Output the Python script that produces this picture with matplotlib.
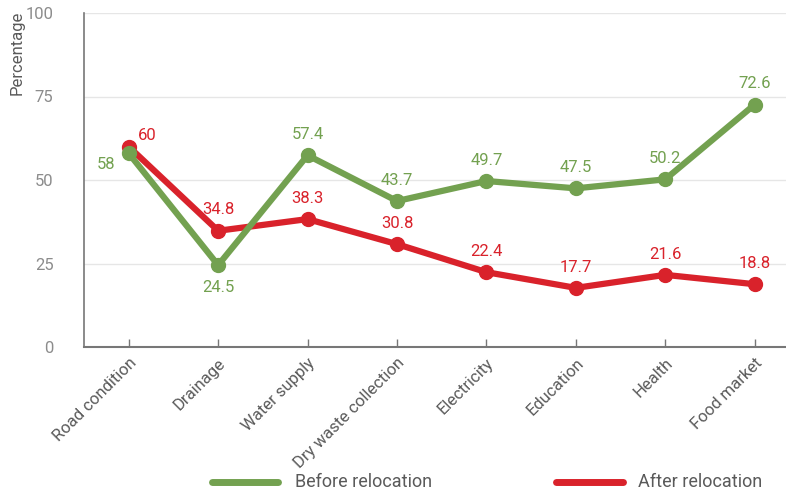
import matplotlib
matplotlib.use("Agg")
import matplotlib.pyplot as plt
from matplotlib import font_manager
from matplotlib.lines import Line2D

categories = ["Road condition", "Drainage", "Water supply", "Dry waste collection",
              "Electricity", "Education", "Health", "Food market"]
before = [58, 24.5, 57.4, 43.7, 49.7, 47.5, 50.2, 72.6]
after = [60, 34.8, 38.3, 30.8, 22.4, 17.7, 21.6, 18.8]
yticks = [0, 25, 50, 75, 100]
series_names = ["Before relocation", "After relocation"]

green = "#73a150"
red = "#d9222b"
grey_txt = "#8c8c8c"
dark_txt = "#5a5a5a"

plt.rcParams["font.family"] = ["Roboto", "DejaVu Sans"]

fig = plt.figure(figsize=(7.86, 4.92), dpi=100)
ax = fig.add_axes([84/786, 1-347/492, 1-84/786, (347-13)/492])

x = list(range(len(categories)))
ax.plot(x, after, color=red, lw=4.5, marker="o", ms=10, zorder=3, solid_capstyle="round")
ax.plot(x, before, color=green, lw=4.5, marker="o", ms=10, zorder=4, solid_capstyle="round")

for i, v in enumerate(before):
    if i == 0:
        off = (-16, -8)
    elif i == 1:
        off = (0, -16)
    else:
        off = (0, 15)
    ax.annotate(f"{v:g}", (i, v), xytext=off, textcoords="offset points",
                ha="center", va="center", color=green, fontsize=12)
for i, v in enumerate(after):
    off = (13, 8) if i == 0 else (0, 15)
    ax.annotate(f"{v:g}", (i, v), xytext=off, textcoords="offset points",
                ha="center", va="center", color=red, fontsize=12)

ax.set_xlim(-0.5, 7.35)
ax.set_ylim(0, 100)
ax.set_yticks(yticks)
ax.set_yticklabels([str(t) for t in yticks], color=grey_txt, fontsize=12)
ax.set_xticks(x)
ax.set_xticklabels(categories, rotation=45, ha="right", rotation_mode="anchor",
                   color=dark_txt, fontsize=12)
ax.tick_params(axis="x", direction="in", length=6, color="#777777", width=1, pad=6)
ax.tick_params(axis="y", length=0, pad=22)
ax.grid(axis="y", color="#e6e6e6", lw=1)
ax.set_axisbelow(True)
for s in ["top", "right"]:
    ax.spines[s].set_visible(False)
ax.spines["left"].set_color("#777777")
ax.spines["bottom"].set_color("#777777")
ax.spines["left"].set_linewidth(1.2)
ax.spines["bottom"].set_linewidth(1.5)

ax.set_ylabel("Percentage", color=dark_txt, fontsize=12)
ax.yaxis.set_label_coords(-0.085, 0.88)

# legend drawn in figure coordinates
W, H = 786, 492
ly = 1 - 482 / H
for (x0, x1, tx), col, name in zip([(212, 278, 295), (556, 623, 638)], [green, red], series_names):
    fig.add_artist(Line2D([x0 / W, x1 / W], [ly, ly], color=col, lw=5,
                          solid_capstyle="round", transform=fig.transFigure))
    fig.text(tx / W, ly, name, ha="left", va="center", color=dark_txt, fontsize=13)

fig.savefig("out.png", dpi=100)
